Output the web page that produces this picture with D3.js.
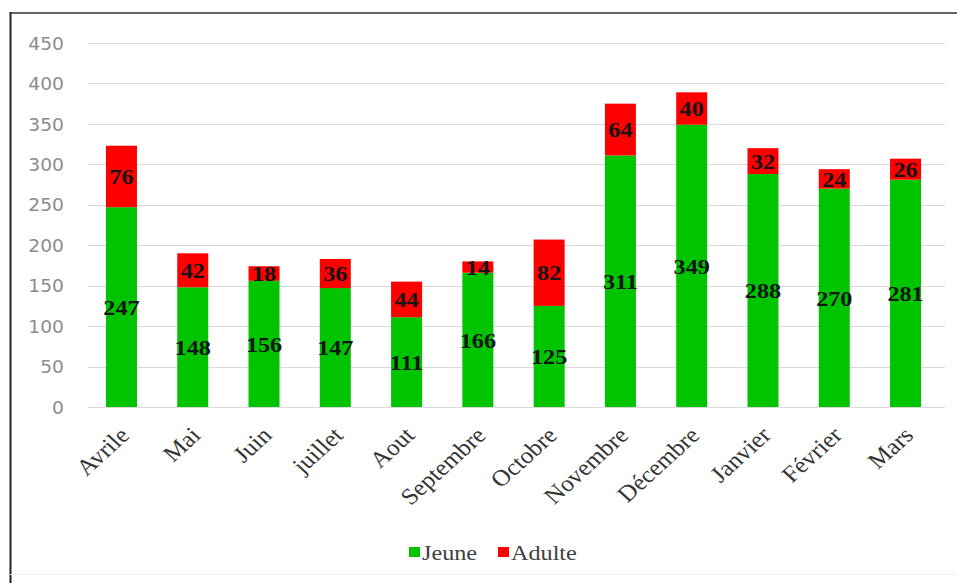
<!DOCTYPE html>
<html>
<head>
<meta charset="utf-8">
<script src="https://cdn.jsdelivr.net/npm/d3@7"></script>
<style>
  html, body { margin: 0; padding: 0; background: #fff; }
  svg { display: block; }
</style>
</head>
<body>
<svg id="chart" width="957" height="583"></svg>
<script>
// Monthly counts, stacked: young (Jeune) at the bottom, adults (Adulte) on top
const months = ["Avrile", "Mai", "Juin", "juillet", "Aout", "Septembre", "Octobre",
                "Novembre", "Décembre", "Janvier", "Février", "Mars"];
const jeune  = [247, 148, 156, 147, 111, 166, 125, 311, 349, 288, 270, 281];
const adulte = [76, 42, 18, 36, 44, 14, 82, 64, 40, 32, 24, 26];
const seriesNames = ["Jeune", "Adulte"];
const yTicks = [0, 50, 100, 150, 200, 250, 300, 350, 400, 450];

const colors = { Jeune: "#00c400", Adulte: "#ff0000" };
const serif = "'Liberation Serif', 'Times New Roman', serif";
const stretch = 1.1; // text is set slightly wide

const svg = d3.select("#chart");
const W = 957, H = 583;

// frame
svg.append("rect").attr("x", 0).attr("y", 0).attr("width", W).attr("height", H).attr("fill", "#fff");
svg.append("line").attr("x1", 10.5).attr("x2", 10.5).attr("y1", 12).attr("y2", H).attr("stroke", "#222").attr("stroke-width", 2);
svg.append("line").attr("x1", 10).attr("x2", W).attr("y1", 13).attr("y2", 13).attr("stroke", "#333").attr("stroke-width", 1.5);
svg.append("line").attr("x1", 10).attr("x2", W).attr("y1", 574.5).attr("y2", 574.5).attr("stroke", "#eee").attr("stroke-width", 1);

const plot = { left: 86, right: 941, top: 43, bottom: 407 };

const x = d3.scaleBand().domain(months).range([plot.left, plot.right]).paddingInner(0.565).paddingOuter(0.28);
const y = d3.scaleLinear().domain([0, 450]).range([plot.bottom, plot.top]);

// gridlines
svg.append("g")
  .selectAll("line").data(yTicks).join("line")
  .attr("x1", 88).attr("x2", 945)
  .attr("y1", d => Math.round(y(d)) + 0.5).attr("y2", d => Math.round(y(d)) + 0.5)
  .attr("stroke", "#d9d9d9").attr("stroke-width", 1);

// y axis labels
const yAxis = d3.axisLeft(y).tickValues(yTicks).tickSize(0).tickPadding(0);
const yg = svg.append("g").attr("transform", "translate(64,0)").call(yAxis);
yg.select(".domain").remove();
yg.selectAll(".tick text")
  .attr("x", null)
  .attr("transform", `scale(${stretch},1)`)
  .attr("dy", "0.36em")
  .attr("fill", "#8c8c8c")
  .style("font-family", "'DejaVu Sans', Verdana, sans-serif")
  .style("font-size", "17px");

// stacked data
const table = months.map((m, i) => ({ month: m, Jeune: jeune[i], Adulte: adulte[i] }));
const stack = d3.stack().keys(seriesNames)(table);

const layers = svg.append("g").selectAll("g").data(stack).join("g")
  .attr("fill", d => colors[d.key]);

layers.selectAll("rect").data(d => d).join("rect")
  .attr("x", d => x(d.data.month))
  .attr("width", x.bandwidth())
  .attr("y", d => y(d[1]))
  .attr("height", d => y(d[0]) - y(d[1]));

// value labels, centred in each segment
const labels = svg.append("g")
  .style("font-family", serif)
  .style("font-size", "22px")
  .style("font-weight", "bold")
  .attr("fill", "#151515")
  .attr("text-anchor", "middle");

stack.forEach(layer => {
  labels.selectAll(null).data(layer).join("text")
    .attr("transform", d => `translate(${x(d.data.month) + x.bandwidth() / 2},${y((d[0] + d[1]) / 2)}) scale(${stretch},1)`)
    .attr("dy", "0.35em")
    .text(d => d.data[layer.key]);
});

// category labels, rotated
const xg = svg.append("g");
xg.selectAll("text").data(months).join("text")
  .attr("transform", d => `translate(${x(d) + x.bandwidth() / 2 + 3},${431}) scale(${stretch},1) rotate(-45)`)
  .attr("text-anchor", "end")
  .attr("dy", "0.35em")
  .attr("fill", "#333")
  .style("font-family", serif)
  .style("font-size", "23px")
  .text(d => d);

// legend
const legend = svg.append("g").attr("transform", "translate(0,552)");
const legendItems = [
  { name: "Jeune", x: 409 },
  { name: "Adulte", x: 498 }
];
legendItems.forEach(it => {
  legend.append("rect").attr("x", it.x).attr("y", -5).attr("width", 11).attr("height", 10).attr("fill", colors[it.name]);
  legend.append("text")
    .attr("transform", `translate(${it.x + 13},0) scale(${stretch},1)`)
    .attr("dy", "0.35em")
    .attr("fill", "#404040")
    .style("font-family", serif)
    .style("font-size", "22px")
    .text(it.name);
});
</script>
</body>
</html>
